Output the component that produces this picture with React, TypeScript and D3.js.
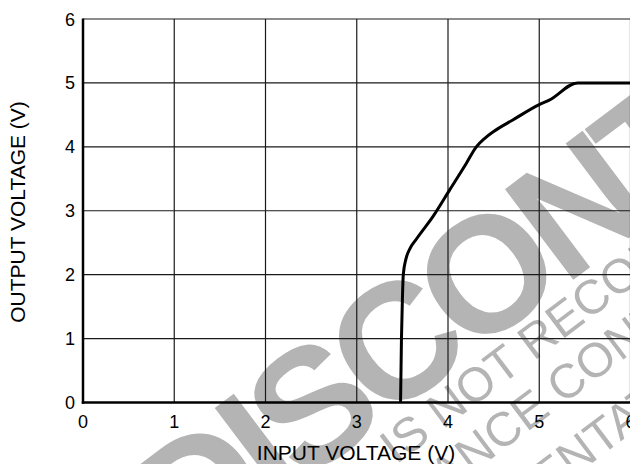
import React from 'react';
import * as d3 from 'd3';

const inputV = [3.48, 3.49, 3.5, 3.51, 3.54, 3.58, 3.65, 3.84, 4.02, 4.2, 4.31, 4.4, 4.5, 4.71, 5.0, 5.11, 5.42, 6.0];
const outputV = [0, 1, 1.6, 2.0, 2.25, 2.4, 2.55, 2.92, 3.33, 3.74, 4.0, 4.13, 4.24, 4.42, 4.66, 4.73, 5.0, 5.0];
const xTicks = [0, 1, 2, 3, 4, 5, 6];
const yTicks = [0, 1, 2, 3, 4, 5, 6];

const W = 630;
const H = 464;
const margin = { top: 19, right: 0, bottom: 61, left: 83 };
const font = 'Liberation Sans, Arial, Helvetica, sans-serif';
const wmGrey = '#b4b4b4';

export default function App() {
  const x = d3.scaleLinear().domain([0, 6]).range([margin.left, W - margin.right + 0.5]);
  const y = d3.scaleLinear().domain([0, 6]).range([H - margin.bottom - 0.5, margin.top]);

  const pts = inputV.map((v, i) => [v, outputV[i]] as [number, number]);
  const line = d3.line<[number, number]>()
    .curve(d3.curveMonotoneX)
    .x(d => x(d[0]))
    .y(d => y(d[1]));

  return (
    <svg width={W} height={H} style={{ position: 'absolute', left: 0, top: 0, background: '#fff' }}>
      {/* watermark */}
      <g fill={wmGrey} fontFamily={font}>
        <text transform="translate(187,571) rotate(-37)" fontSize={165} fontWeight="bold" letterSpacing={-10}>DISCONTINUED</text>
        <text transform="translate(396,465) rotate(-37)" fontSize={48}>IS NOT RECOMMENDED FOR NEW DESIGN</text>
        <text transform="translate(312,594) rotate(-37)" fontSize={48}>ASSISTANCE CONTACT YOUR</text>
        <text transform="translate(389,616) rotate(-37)" fontSize={48}>REPRESENTATIVE</text>
      </g>

      {/* grid */}
      <g stroke="#1a1a1a" strokeWidth={1.2}>
        {xTicks.map(t => (
          <line key={'gx' + t} x1={x(t)} x2={x(t)} y1={y(6)} y2={y(0)} />
        ))}
        {yTicks.map(t => (
          <line key={'gy' + t} x1={x(0)} x2={x(6)} y1={y(t)} y2={y(t)} />
        ))}
      </g>

      {/* axes */}
      <line x1={x(0)} x2={x(0)} y1={y(6) - 0.6} y2={y(0) + 1.2} stroke="#000" strokeWidth={2.5} />
      <line x1={x(0) - 1.2} x2={x(6)} y1={y(0)} y2={y(0)} stroke="#000" strokeWidth={2.5} />

      <path d={line(pts) || ''} fill="none" stroke="#000" strokeWidth={3} strokeLinejoin="round" />

      {/* tick labels */}
      <g fontFamily={font} fontSize={18} fill="#000">
        {xTicks.map(t => (
          <text key={'tx' + t} x={x(t)} y={428} textAnchor="middle">{t}</text>
        ))}
        {yTicks.map(t => (
          <text key={'ty' + t} x={75} y={y(t) + 6.5} textAnchor="end">{t}</text>
        ))}
      </g>

      <text x={356} y={460} textAnchor="middle" fontFamily={font} fontSize={21}>INPUT VOLTAGE (V)</text>
      <text transform="translate(25,212) rotate(-90)" textAnchor="middle" fontFamily={font} fontSize={21}>OUTPUT VOLTAGE (V)</text>
    </svg>
  );
}
